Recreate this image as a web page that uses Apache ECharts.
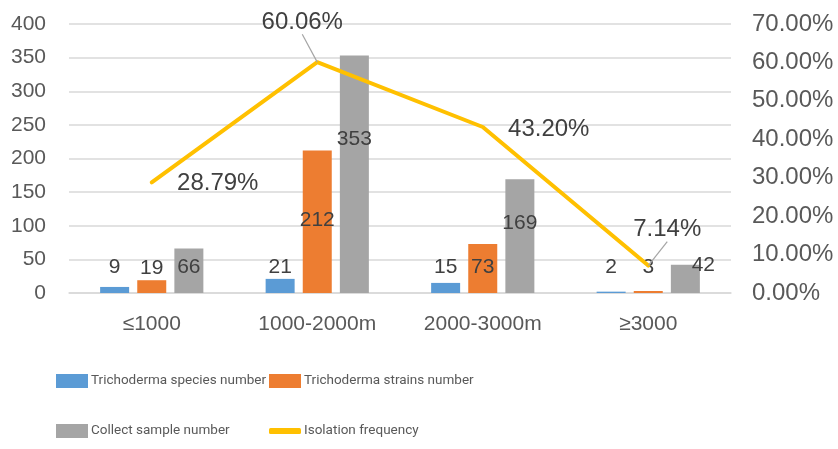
<!DOCTYPE html>
<html>
<head>
<meta charset="utf-8">
<script src="https://cdn.jsdelivr.net/npm/echarts@6/dist/echarts.min.js"></script>
<style>
  html, body { margin: 0; padding: 0; background: #fff; }
  #chart { width: 838px; height: 449px; }
</style>
</head>
<body>
<div id="chart"></div>
<script>
// Altitude bands
const categories = ['≤1000', '1000-2000m', '2000-3000m', '≥3000'];
// Counts per band
const speciesNumber = [9, 21, 15, 2];
const strainsNumber = [19, 212, 73, 3];
const sampleNumber = [66, 353, 169, 42];
// Isolation frequency (%)
const isolationFrequency = [28.79, 60.06, 43.20, 7.14];

// Axis ticks
const leftTicks = { min: 0, max: 400, interval: 50 };
const rightTicks = { min: 0, max: 70, interval: 10 };

// Label nudges (pixels) for the value labels, [dx, dy]
const speciesLabelShift = [[0, -9], [0, -1], [0, -5], [0, -14]];
const strainsLabelShift = [[0, -2], [0, 80], [0, 34], [0, -13]];
const sampleLabelShift = [[0, 29], [0, 94], [0, 54], [18, 11]];
const freqLabelShift = [[66, 1], [-15, -40], [66, 2], [19, -36]];
const freqLeader = [false, true, false, true];

const textFont = 'Liberation Sans, Arial, sans-serif';
const legendFont = 'Roboto, "Liberation Sans", sans-serif';
const axisColor = '#595959';
const labelColor = '#404040';
const gridColor = '#D9D9D9';

function barSeries(name, values, color, shift) {
  return {
    name: name,
    type: 'bar',
    data: values,
    barWidth: 29,
    barGap: '28%',
    itemStyle: { color: color },
    label: {
      show: true,
      position: 'top',
      distance: 0,
      color: labelColor,
      fontSize: 21,
      fontFamily: textFont
    },
    labelLayout: function (p) {
      return { dx: shift[p.dataIndex][0], dy: shift[p.dataIndex][1] };
    }
  };
}

function legendBox(name, left, top, icon, h) {
  return {
    data: [name],
    left: left,
    top: top,
    icon: icon,
    itemWidth: 32,
    itemHeight: h,
    itemGap: 0,
    padding: 0,
    selectedMode: false,
    textStyle: { color: axisColor, fontSize: 13.5, fontFamily: legendFont, padding: [0, 0, 0, -2] }
  };
}

const chart = echarts.init(document.getElementById('chart'), null, { renderer: 'canvas' });

chart.setOption({
  animation: false,
  backgroundColor: '#ffffff',
  grid: { left: 69, right: 107, top: 24, bottom: 156, containLabel: false },
  legend: [
    legendBox('Trichoderma species number', 56, 374, 'rect', 14),
    legendBox('Trichoderma strains number', 269, 374, 'rect', 14),
    legendBox('Collect sample number', 56, 424, 'rect', 14),
    legendBox('Isolation frequency', 269, 424, 'roundRect', 6)
  ],
  xAxis: {
    type: 'category',
    data: categories,
    axisLine: { show: true, lineStyle: { color: gridColor, width: 1.5 } },
    axisTick: { show: false },
    axisLabel: { color: axisColor, fontSize: 21, fontFamily: textFont, margin: 21 }
  },
  yAxis: [
    {
      type: 'value',
      min: leftTicks.min,
      max: leftTicks.max,
      interval: leftTicks.interval,
      axisLine: { show: false },
      axisTick: { show: false },
      splitLine: { lineStyle: { color: gridColor, width: 1.5 } },
      axisLabel: { color: axisColor, fontSize: 21, fontFamily: textFont, margin: 23 }
    },
    {
      type: 'value',
      min: rightTicks.min,
      max: rightTicks.max,
      interval: rightTicks.interval,
      axisLine: { show: false },
      axisTick: { show: false },
      splitLine: { show: false },
      axisLabel: {
        color: axisColor, fontSize: 24, fontFamily: textFont, margin: 21,
        formatter: function (v) { return v.toFixed(2) + '%'; }
      }
    }
  ],
  series: [
    barSeries('Trichoderma species number', speciesNumber, '#5B9BD5', speciesLabelShift),
    barSeries('Trichoderma strains number', strainsNumber, '#ED7D31', strainsLabelShift),
    barSeries('Collect sample number', sampleNumber, '#A5A5A5', sampleLabelShift),
    {
      name: 'Isolation frequency',
      type: 'line',
      yAxisIndex: 1,
      data: isolationFrequency.map(function (v, i) {
        return { value: v, labelLine: { show: freqLeader[i] } };
      }),
      symbol: 'circle',
      symbolSize: 0.1,
      itemStyle: { color: '#FFC000' },
      lineStyle: { color: '#FFC000', width: 4, cap: 'round', join: 'round' },
      z: 5,
      label: {
        show: true,
        position: 'inside',
        color: labelColor,
        fontSize: 24,
        fontFamily: textFont,
        formatter: function (p) { return p.value.toFixed(2) + '%'; }
      },
      labelLine: {
        show: false,
        lineStyle: { color: '#A5A5A5', width: 1.2 }
      },
      labelLayout: function (p) {
        return { dx: freqLabelShift[p.dataIndex][0], dy: freqLabelShift[p.dataIndex][1] };
      }
    }
  ]
});
</script>
</body>
</html>
